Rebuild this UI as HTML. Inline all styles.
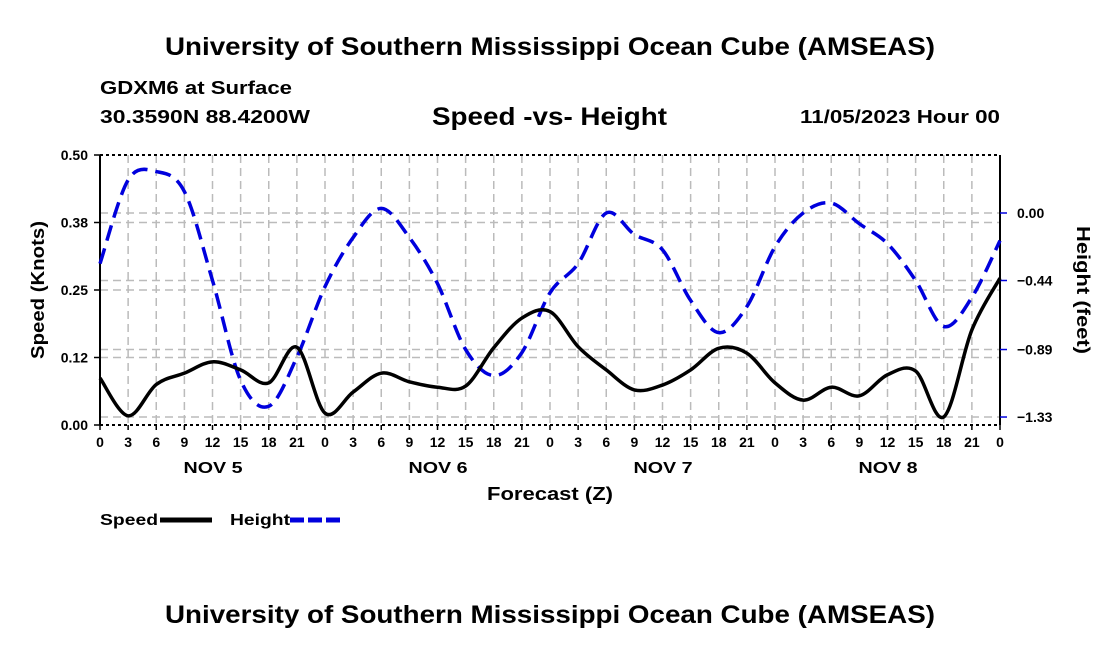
<!DOCTYPE html>
<html><head><meta charset="utf-8"><style>
body{margin:0;background:#fff;width:1100px;height:650px;overflow:hidden;font-family:"Liberation Sans",sans-serif}
svg text{font-family:"Liberation Sans",sans-serif;font-weight:bold}
</style></head><body>
<svg id="chart" width="1100" height="650" xmlns="http://www.w3.org/2000/svg">
<text x="165" y="55" font-size="25" textLength="770" lengthAdjust="spacingAndGlyphs">University of Southern Mississippi Ocean Cube (AMSEAS)</text>
<text x="100" y="94" font-size="18" textLength="192" lengthAdjust="spacingAndGlyphs">GDXM6 at Surface</text>
<text x="100" y="123" font-size="18" textLength="210" lengthAdjust="spacingAndGlyphs">30.3590N  88.4200W</text>
<text x="432" y="125" font-size="25" textLength="235" lengthAdjust="spacingAndGlyphs">Speed -vs- Height</text>
<text x="800" y="123" font-size="18" textLength="200" lengthAdjust="spacingAndGlyphs">11/05/2023 Hour 00</text>
<g id="grid"></g>
<g id="axes"></g>
<g id="series"></g>
<text transform="translate(44,290) rotate(-90)" font-size="18" text-anchor="middle" textLength="138" lengthAdjust="spacingAndGlyphs">Speed (Knots)</text>
<text transform="translate(1077,290) rotate(90)" font-size="18" text-anchor="middle" textLength="128" lengthAdjust="spacingAndGlyphs">Height (feet)</text>
<text x="487" y="500" font-size="18" textLength="126" lengthAdjust="spacingAndGlyphs">Forecast (Z)</text>
<g>
<text x="100" y="525" font-size="16" textLength="58" lengthAdjust="spacingAndGlyphs">Speed</text>
<line x1="160" y1="520" x2="212" y2="520" stroke="#000" stroke-width="5"/>
<text x="230" y="525" font-size="16" textLength="60" lengthAdjust="spacingAndGlyphs">Height</text>
<line x1="290" y1="520" x2="342" y2="520" stroke="#0000dd" stroke-width="5" stroke-dasharray="14,4"/>
</g>
<text x="165" y="623" font-size="25" textLength="770" lengthAdjust="spacingAndGlyphs">University of Southern Mississippi Ocean Cube (AMSEAS)</text>
</svg>
<script>
const hours=[0,3,6,9,12,15,18,21,24,27,30,33,36,39,42,45,48,51,54,57,60,63,66,69,72,75,78,81,84,87,90,93,96];
const speedValues=[0.087,0.017,0.075,0.096,0.117,0.102,0.078,0.144,0.022,0.061,0.096,0.080,0.070,0.072,0.143,0.198,0.21,0.145,0.102,0.065,0.074,0.102,0.142,0.133,0.078,0.046,0.070,0.054,0.093,0.100,0.015,0.176,0.272];
const heightValues=[-0.33,0.215,0.27,0.14,-0.44,-1.09,-1.26,-0.94,-0.48,-0.16,0.03,-0.16,-0.46,-0.89,-1.06,-0.91,-0.52,-0.33,0.0,-0.14,-0.24,-0.57,-0.78,-0.61,-0.22,0.0,0.065,-0.07,-0.20,-0.44,-0.74,-0.55,-0.18];
const leftTicks=[0,0.125,0.25,0.375,0.5];
const leftTickLabels=["0.00","0.12","0.25","0.38","0.50"];
const rightTicks=[0,-0.44,-0.89,-1.33];
const rightTickLabels=["0.00","\u22120.44","\u22120.89","\u22121.33"];
const dayLabels=["NOV 5","NOV 6","NOV 7","NOV 8"];
const NS="http://www.w3.org/2000/svg";
const X0=100,X1=1000,Y0=425,Y1=155;
const xs=h=>X0+h/96*(X1-X0);
const ysL=v=>Y0-v/0.5*(Y0-Y1);
const ysR=v=>213-v*153.4;
function mk(tag,attrs,parent){const e=document.createElementNS(NS,tag);for(const k in attrs)e.setAttribute(k,attrs[k]);parent.appendChild(e);return e;}
const grid=document.getElementById('grid'),axes=document.getElementById('axes'),series=document.getElementById('series');
for(let h=3;h<96;h+=3){
 const l=mk('line',{x1:xs(h),y1:Y1,x2:xs(h),y2:Y0,stroke:'#bbb','stroke-width':1.5,'stroke-dasharray':'8,5'},grid);
 
 
}
leftTicks.slice(1,4).forEach(v=>{
 const l=mk('line',{x1:X0,y1:ysL(v),x2:X1,y2:ysL(v),stroke:'#bbb','stroke-width':1.5,'stroke-dasharray':'8,5'},grid);
 
 
});
rightTicks.forEach(v=>{
 const l=mk('line',{x1:X0,y1:ysR(v),x2:X1,y2:ysR(v),stroke:'#bbb','stroke-width':1.5,'stroke-dasharray':'8,5'},grid);
 
 
});
[[X0,Y1,X1,Y1,'3,3'],[X0,Y0,X1,Y0,'3,3']].forEach(a=>{
 const l=mk('line',{x1:a[0],y1:a[1],x2:a[2],y2:a[3],stroke:'#000','stroke-width':2,'stroke-dasharray':a[4]},axes);
 
 
});
let la=mk('line',{x1:X0,y1:Y1,x2:X0,y2:Y0,stroke:'#000','stroke-width':2},axes);


let ra=mk('line',{x1:X1,y1:Y1,x2:X1,y2:Y0,stroke:'#000','stroke-width':2},axes);


leftTicks.forEach((v,i)=>{
 const t=mk('line',{x1:X0-6,y1:ysL(v),x2:X0,y2:ysL(v),stroke:'#000','stroke-width':1.5},axes);
 
 
 const tx=mk('text',{x:X0-12,y:ysL(v)+5,'font-size':14,'text-anchor':'end'},axes);
 tx.textContent=leftTickLabels[i];
 
 
});
rightTicks.forEach((v,i)=>{
 const t=mk('line',{x1:X1,y1:ysR(v),x2:X1+7,y2:ysR(v),stroke:'#0000dd','stroke-width':1.5},axes);
 
 
 const tx=mk('text',{x:X1+17,y:ysR(v)+5,'font-size':14},axes);
 tx.textContent=rightTickLabels[i];
 
 
});
for(let h=0;h<=96;h+=3){
 const t=mk('line',{x1:xs(h),y1:Y0,x2:xs(h),y2:Y0+5,stroke:'#000','stroke-width':1.5},axes);
 
 
 const tx=mk('text',{x:xs(h),y:Y0+22,'font-size':14,'text-anchor':'middle'},axes);
 tx.textContent=String(h%24);
 
 
}
dayLabels.forEach((d,i)=>{
 const tx=mk('text',{x:xs(i*24+12)-29,y:Y0+48,'font-size':16,textLength:59,lengthAdjust:'spacingAndGlyphs'},axes);
 tx.textContent=d;
 
 
});
function smooth(pts){
 let d='M'+pts[0][0]+','+pts[0][1];
 for(let i=0;i<pts.length-1;i++){
  const p0=pts[i-1]||pts[i],p1=pts[i],p2=pts[i+1],p3=pts[i+2]||p2;
  const c1=[p1[0]+(p2[0]-p0[0])/6,p1[1]+(p2[1]-p0[1])/6];
  const c2=[p2[0]-(p3[0]-p1[0])/6,p2[1]-(p3[1]-p1[1])/6];
  d+=' C'+c1[0]+','+c1[1]+' '+c2[0]+','+c2[1]+' '+p2[0]+','+p2[1];
 }
 return d;
}
const hp=mk('path',{d:smooth(hours.map((h,i)=>[xs(h),ysR(heightValues[i])])),fill:'none',stroke:'#0000dd','stroke-width':3.5,'stroke-dasharray':'16,8'},series);


const sp=mk('path',{d:smooth(hours.map((h,i)=>[xs(h),ysL(speedValues[i])])),fill:'none',stroke:'#000','stroke-width':3.5},series);


</script>
</body></html>
